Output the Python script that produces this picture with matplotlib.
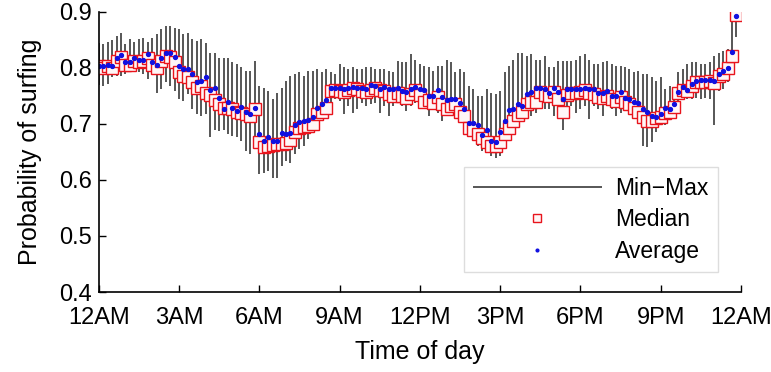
import numpy as np
import matplotlib.pyplot as plt

plt.rcParams['font.family'] = ['Liberation Sans', 'DejaVu Sans']

# 10-minute slots over one day (144 points)
hours = np.arange(144) / 6.0

avg = [0.803, 0.803, 0.806, 0.803, 0.817, 0.823, 0.811, 0.811, 0.817, 0.815, 0.815, 0.824, 0.811,
       0.806, 0.818, 0.826, 0.826, 0.820, 0.803, 0.798, 0.798, 0.789, 0.774, 0.776, 0.783, 0.761,
       0.765, 0.747, 0.727, 0.739, 0.729, 0.724, 0.731, 0.721, 0.717, 0.729, 0.682, 0.670, 0.677,
       0.670, 0.670, 0.683, 0.682, 0.684, 0.699, 0.704, 0.705, 0.707, 0.712, 0.728,
       0.735, 0.742, 0.765, 0.765, 0.765, 0.762, 0.765, 0.766, 0.765, 0.765, 0.762, 0.769, 0.768,
       0.763, 0.766, 0.762, 0.762, 0.765, 0.759, 0.757, 0.762, 0.766, 0.762, 0.761,
       0.750, 0.750, 0.760, 0.748, 0.742, 0.745, 0.745, 0.738, 0.727, 0.702, 0.701, 0.699, 0.680,
       0.690, 0.670, 0.668, 0.685, 0.705, 0.725, 0.726, 0.735, 0.732, 0.753, 0.757,
       0.765, 0.765, 0.763, 0.756, 0.765, 0.757, 0.745, 0.763, 0.763, 0.763, 0.763, 0.765, 0.763,
       0.763, 0.755, 0.755, 0.758, 0.750, 0.749, 0.757, 0.747, 0.745, 0.739, 0.738, 0.727,
       0.722, 0.715, 0.713, 0.718, 0.728, 0.726, 0.735, 0.757, 0.766, 0.761, 0.772, 0.777, 0.778,
       0.778, 0.778, 0.776, 0.789, 0.795, 0.799, 0.829, 0.893]

median = [0.803, 0.800, 0.803, 0.800, 0.812, 0.820, 0.806, 0.806, 0.812, 0.810, 0.812, 0.818, 0.806,
          0.800, 0.812, 0.822, 0.820, 0.810, 0.792, 0.786, 0.783, 0.775, 0.765, 0.768, 0.755, 0.752,
          0.743, 0.735, 0.728, 0.728, 0.726, 0.722, 0.720, 0.718, 0.714, 0.726,
          0.668, 0.659, 0.660, 0.662, 0.664, 0.665, 0.666, 0.672, 0.685, 0.692, 0.694, 0.696, 0.700, 0.717,
          0.722, 0.728, 0.759, 0.760, 0.758, 0.757, 0.760, 0.765, 0.762, 0.759, 0.757, 0.760, 0.764,
          0.760, 0.758, 0.753, 0.750, 0.755, 0.750, 0.747, 0.753, 0.760, 0.752, 0.740,
          0.742, 0.738, 0.748, 0.735, 0.726, 0.732, 0.735, 0.722, 0.714, 0.693, 0.690, 0.682, 0.675,
          0.668, 0.661, 0.660, 0.668, 0.682, 0.693, 0.705, 0.716, 0.722, 0.735, 0.740,
          0.740, 0.757, 0.752, 0.750, 0.757, 0.745, 0.722, 0.752, 0.755, 0.755, 0.757, 0.760, 0.755,
          0.753, 0.748, 0.747, 0.750, 0.745, 0.741, 0.748, 0.740, 0.735, 0.729, 0.722, 0.712,
          0.705, 0.705, 0.710, 0.712, 0.720, 0.722, 0.730, 0.755, 0.760, 0.758, 0.768, 0.775, 0.775,
          0.775, 0.776, 0.773, 0.785, 0.790, 0.800, 0.822, 0.895]

vmax = [0.845, 0.842, 0.846, 0.850, 0.857, 0.863, 0.842, 0.851, 0.847, 0.851, 0.854, 0.847, 0.854,
        0.860, 0.869, 0.875, 0.875, 0.872, 0.869, 0.860, 0.863, 0.851, 0.848, 0.851, 0.845, 0.827,
        0.827, 0.818, 0.818, 0.818, 0.810, 0.807, 0.801, 0.795, 0.795, 0.812, 0.768, 0.765, 0.759,
        0.744, 0.756, 0.765, 0.777, 0.786, 0.789, 0.792, 0.786, 0.795, 0.795, 0.798,
        0.792, 0.798, 0.792, 0.789, 0.807, 0.801, 0.798, 0.801, 0.798, 0.798, 0.801, 0.801, 0.798,
        0.798, 0.798, 0.795, 0.792, 0.812, 0.810, 0.810, 0.824, 0.815, 0.807, 0.804,
        0.801, 0.795, 0.804, 0.804, 0.815, 0.810, 0.792, 0.798, 0.792, 0.768, 0.762, 0.750, 0.750,
        0.762, 0.756, 0.753, 0.759, 0.792, 0.804, 0.815, 0.827, 0.827, 0.821, 0.824,
        0.815, 0.815, 0.821, 0.801, 0.801, 0.812, 0.812, 0.812, 0.812, 0.815, 0.821, 0.824, 0.815,
        0.807, 0.807, 0.810, 0.812, 0.807, 0.804, 0.804, 0.801, 0.798, 0.792, 0.795, 0.789,
        0.789, 0.783, 0.777, 0.783, 0.762, 0.768, 0.765, 0.792, 0.798, 0.807, 0.810, 0.810, 0.807,
        0.807, 0.810, 0.821, 0.827, 0.830, 0.833, 0.885, 0.898]

vmin = [0.770, 0.768, 0.771, 0.783, 0.786, 0.786, 0.789, 0.792, 0.795, 0.792, 0.789, 0.780, 0.792,
        0.756, 0.762, 0.774, 0.768, 0.759, 0.744, 0.741, 0.753, 0.726, 0.717, 0.714, 0.717, 0.676,
        0.690, 0.688, 0.690, 0.682, 0.679, 0.676, 0.670, 0.652, 0.646, 0.661,
        0.610, 0.613, 0.616, 0.604, 0.604, 0.625, 0.634, 0.631, 0.646, 0.655, 0.661, 0.673, 0.685, 0.696,
        0.705, 0.714, 0.738, 0.744, 0.741, 0.717, 0.732, 0.720, 0.726, 0.738, 0.732, 0.735, 0.738,
        0.720, 0.732, 0.714, 0.732, 0.738, 0.732, 0.723, 0.732, 0.738, 0.732, 0.729,
        0.714, 0.726, 0.720, 0.705, 0.714, 0.720, 0.714, 0.705, 0.693, 0.679, 0.673, 0.661, 0.652,
        0.649, 0.643, 0.640, 0.643, 0.661, 0.679, 0.682, 0.693, 0.705, 0.714, 0.715,
        0.720, 0.732, 0.726, 0.726, 0.714, 0.726, 0.690, 0.726, 0.732, 0.720, 0.726, 0.732, 0.708,
        0.732, 0.726, 0.714, 0.732, 0.726, 0.714, 0.720, 0.726, 0.720, 0.708, 0.702, 0.661,
        0.658, 0.667, 0.685, 0.702, 0.699, 0.714, 0.714, 0.738, 0.750, 0.744, 0.744, 0.747, 0.744,
        0.747, 0.744, 0.699, 0.759, 0.762, 0.774, 0.800, 0.855]

tick_hours = [0, 3, 6, 9, 12, 15, 18, 21, 24]
tick_labels = ['12AM', '3AM', '6AM', '9AM', '12PM', '3PM', '6PM', '9PM', '12AM']

fig = plt.figure(figsize=(7.71, 3.72), dpi=100)
ax = fig.add_axes([0.128, 0.215, 0.833, 0.753])

ax.vlines(hours, vmin, vmax, color='#3a3a3a', linewidth=1.2, label='Min\u2212Max')
ax.plot(hours, median, 's', markersize=8, markerfacecolor='#fff6f6',
        markeredgecolor='#e8141c', markeredgewidth=1.0, linestyle='none', label='Median')
ax.plot(hours, avg, 'o', markersize=2.8, color='#1010e0', linestyle='none', label='Average')

ax.set_xlim(0, 24)
ax.set_ylim(0.4, 0.9)
ax.set_xticks(tick_hours)
ax.set_xticklabels(tick_labels)
ax.set_yticks([0.4, 0.5, 0.6, 0.7, 0.8, 0.9])
ax.set_yticklabels(['0.4', '0.5', '0.6', '0.7', '0.8', '0.9'])
ax.tick_params(direction='in', length=5, width=1, labelsize=17)
ax.tick_params(axis='x', pad=11)
ax.tick_params(axis='y', pad=5)
ax.spines['top'].set_visible(False)
ax.spines['right'].set_visible(False)
ax.spines['left'].set_linewidth(1.2)
ax.spines['bottom'].set_linewidth(1.2)

ax.set_xlabel('Time of day', fontsize=18, labelpad=8)
ax.set_ylabel('Probability of surfing', fontsize=18, labelpad=12)

leg = ax.legend(loc='lower right', bbox_to_anchor=(0.964, 0.071), borderaxespad=0,
                fontsize=16.5, handlelength=5.6, handletextpad=0.6, labelspacing=0.38,
                borderpad=0.4, markerscale=0.7,
                fancybox=False, framealpha=1, edgecolor='#dddddd')
leg.get_frame().set_linewidth(1.0)

fig.savefig('out.png', dpi=100)
